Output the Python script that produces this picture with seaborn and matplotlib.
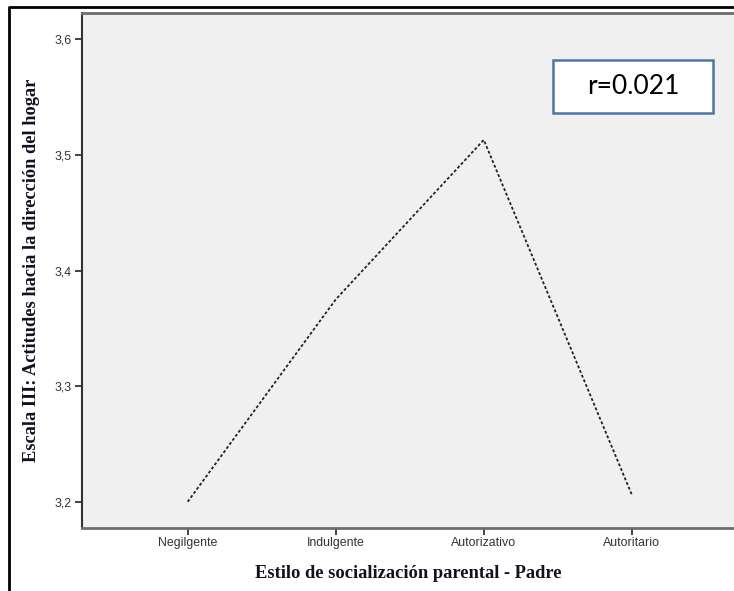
import seaborn as sns
import pandas as pd
import matplotlib.pyplot as plt
from matplotlib.lines import Line2D
from matplotlib.patches import Rectangle
from matplotlib.ticker import FuncFormatter

estilos = ["Negilgente", "Indulgente", "Autorizativo", "Autoritario"]
medias = [3.200, 3.375, 3.513, 3.206]
y_ticks = [3.2, 3.3, 3.4, 3.5, 3.6]
r_text = "r=0.021"

df = pd.DataFrame({"estilo": estilos, "media": medias})

sns.set_style("white")
fig = plt.figure(figsize=(7.34, 5.91), dpi=100)
ax = fig.add_axes([0.1113, 0.1074, 0.8887, 0.8701])
ax.set_facecolor("#f0f0f0")

sns.lineplot(data=df, x="estilo", y="media", sort=False, ax=ax,
             color="#222222", linewidth=1.3, linestyle=(0, (1.6, 1.2)))

ax.set_xlim(-0.716, 3.69)
ax.set_ylim(3.1777, 3.6225)
ax.set_yticks(y_ticks)
ax.yaxis.set_major_formatter(FuncFormatter(lambda v, p: f"{v:.1f}".replace(".", ",")))

ax.tick_params(axis="both", which="major", direction="out", length=5, width=1.3,
               color="#333333", labelcolor="#333333", labelsize=8.9,
               bottom=True, left=True, pad=2)
for lab in ax.get_xticklabels() + ax.get_yticklabels():
    lab.set_family("Liberation Sans")

for side in ["top", "bottom"]:
    ax.spines[side].set_color("#6e6e6e")
    ax.spines[side].set_linewidth(2)
ax.spines["left"].set_color("#333333")
ax.spines["left"].set_linewidth(1.5)
ax.spines["right"].set_visible(False)

ax.set_xlabel("Estilo de socialización parental - Padre", family="Liberation Serif",
              fontweight="bold", fontsize=13.3, color="#111122", labelpad=11)
ax.set_ylabel("Escala III: Actitudes hacia la dirección del hogar", family="Liberation Serif",
              fontweight="bold", fontsize=13.2, color="#111122", labelpad=11)

# r box
fig.add_artist(Rectangle((553 / 734, 1 - 113 / 591), 160 / 734, 53 / 591,
                         transform=fig.transFigure, facecolor="white",
                         edgecolor="#4a76a8", linewidth=1.8, zorder=5))
fig.text(633 / 734, 1 - 87 / 591, r_text, ha="center", va="center",
         family="Lato", fontsize=19, color="black", zorder=6)

# outer frame
fig.add_artist(Line2D([9 / 734, 9 / 734, 1.0], [0.0, 1 - 7 / 591, 1 - 7 / 591],
                      transform=fig.transFigure, color="black", linewidth=2))

plt.savefig("out.png", dpi=100)
plt.close()
